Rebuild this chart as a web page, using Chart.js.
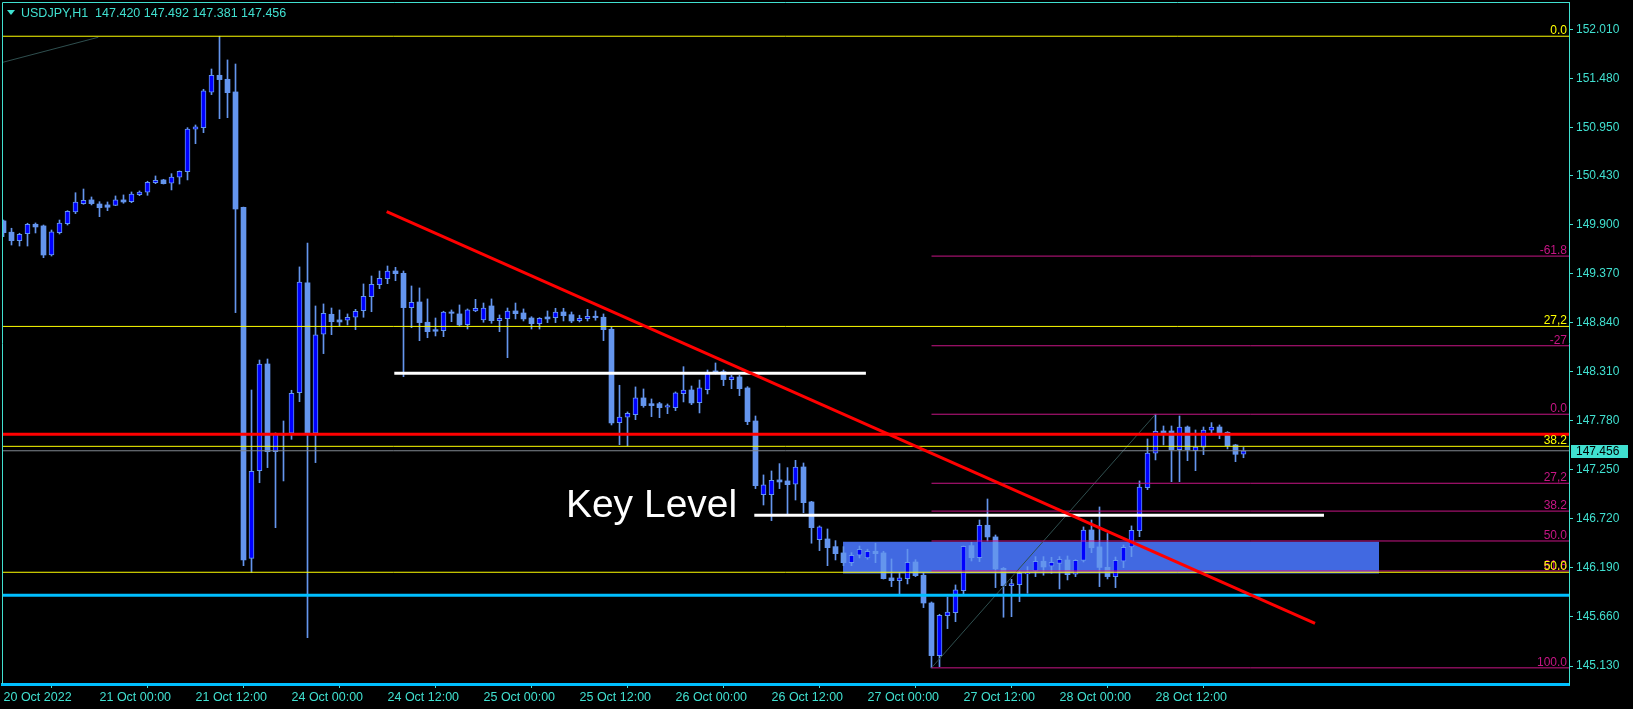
<!DOCTYPE html>
<html><head><meta charset="utf-8">
<script src="https://cdn.jsdelivr.net/npm/chart.js@4/dist/chart.umd.min.js"></script>
<style>html,body{margin:0;padding:0;background:#000;}canvas{display:block;}</style>
</head><body>
<canvas id="c" width="1633" height="709"></canvas>
<script>
// ---------- DATA (USDJPY H1, bar index 0 = 20 Oct 2022 12:00) ----------
const symbolTitle = 'USDJPY,H1';
const open = [
149.940,149.818,149.727,149.802,149.904,149.886,149.572,149.813,149.910,150.037,
150.127,150.167,150.123,150.113,150.109,150.167,150.148,150.224,150.250,150.354,
150.383,150.347,150.412,150.472,150.931,150.948,151.331,151.514,151.471,151.334,
150.088,146.294,147.241,148.394,147.446,147.638,147.645,148.084,149.270,147.645,
148.715,148.931,148.870,148.867,148.899,148.970,149.122,149.251,149.316,149.399,
149.374,149.003,149.064,148.845,148.765,148.754,148.956,148.935,148.819,148.967,
148.870,149.021,148.862,148.884,148.967,148.945,148.891,148.830,148.902,148.895,
148.956,148.927,148.862,148.884,148.910,148.899,148.769,147.760,147.818,147.846,
148.027,147.965,147.965,147.926,147.922,148.073,148.113,147.976,148.117,148.319,
148.311,148.225,148.254,148.135,147.778,146.982,146.982,147.141,147.130,147.094,
147.281,146.903,146.495,146.503,146.420,146.352,146.247,146.327,146.298,146.370,
146.352,146.082,146.052,146.074,146.254,146.111,145.811,145.242,145.674,145.707,
145.944,146.431,146.301,146.651,146.525,146.186,145.998,146.009,146.125,146.157,
146.262,146.208,146.238,146.276,146.122,146.271,146.600,146.417,146.197,146.096,
146.262,146.417,146.593,147.057,147.429,147.670,147.670,147.468,147.713,147.457,
147.494,147.678,147.713,147.656,147.519,147.420];
const high = [
149.950,149.861,149.807,149.915,149.918,149.896,149.842,149.950,150.051,150.245,
150.285,150.199,150.148,150.145,150.210,150.221,150.253,150.264,150.369,150.426,
150.390,150.451,150.480,150.948,150.977,151.363,151.582,151.936,151.680,151.636,
150.091,148.113,148.437,148.448,147.649,147.778,148.110,149.443,149.702,149.021,
149.043,148.999,148.978,148.935,148.985,149.259,149.345,149.399,149.453,149.439,
149.399,149.237,149.216,149.097,148.891,148.964,148.978,149.032,148.989,149.093,
149.053,149.097,148.924,148.999,149.053,148.989,148.905,148.895,148.967,148.996,
148.996,148.956,148.921,148.985,148.967,148.935,148.791,148.164,147.876,148.146,
148.124,148.016,147.980,147.962,148.092,148.365,148.156,148.221,148.329,148.405,
148.329,148.272,148.272,148.149,147.832,147.195,147.238,147.317,147.274,147.353,
147.324,146.910,146.644,146.611,146.485,146.420,146.355,146.427,146.392,146.457,
146.370,146.287,146.139,146.392,146.279,146.139,145.822,145.689,145.876,146.006,
146.427,146.467,146.708,146.935,146.546,146.195,146.067,146.157,146.204,146.312,
146.312,146.305,146.312,146.319,146.279,146.633,146.708,146.849,146.562,146.308,
146.438,146.644,147.130,147.584,147.851,147.724,147.724,147.832,147.724,147.681,
147.713,147.760,147.735,147.663,147.525,147.492];
const low = [
149.770,149.680,149.669,149.669,149.810,149.543,149.561,149.799,149.896,150.019,
150.120,150.113,149.986,150.051,150.105,150.131,150.137,150.213,150.217,150.343,
150.339,150.275,150.339,150.383,150.775,150.894,151.305,151.045,151.056,148.949,
146.214,146.143,147.111,147.274,146.625,147.130,147.580,147.987,145.436,147.328,
148.506,148.711,148.805,148.816,148.765,148.899,148.959,149.208,149.262,149.294,
148.257,148.787,148.646,148.678,148.697,148.689,148.851,148.805,148.772,148.959,
148.845,148.834,148.743,148.462,148.881,148.859,148.772,148.772,148.841,148.841,
148.859,148.841,148.848,148.859,148.867,148.646,147.735,147.522,147.508,147.792,
147.926,147.825,147.814,147.857,147.890,147.984,147.954,147.865,148.070,148.286,
148.160,148.127,148.052,147.738,147.047,146.870,146.701,147.047,146.773,146.924,
146.787,146.457,146.377,146.214,146.276,146.214,146.214,146.298,146.284,146.247,
146.070,145.988,145.909,146.017,146.096,145.761,145.110,145.123,145.534,145.609,
145.905,146.265,146.258,146.481,145.977,145.657,145.663,145.825,145.916,146.096,
146.111,146.132,145.963,146.060,146.096,146.254,146.355,145.988,146.071,145.977,
146.193,146.312,146.528,147.036,147.357,147.519,147.122,147.122,147.349,147.241,
147.414,147.645,147.587,147.476,147.338,147.381];
const close = [
149.813,149.727,149.796,149.904,149.875,149.572,149.821,149.918,150.044,150.145,
150.163,150.127,150.083,150.088,150.167,150.145,150.231,150.253,150.358,150.380,
150.343,150.415,150.477,150.934,150.956,151.345,151.514,151.467,151.326,150.069,
146.276,147.235,148.394,147.446,147.645,147.627,148.078,149.280,147.645,148.708,
148.942,148.851,148.848,148.899,148.964,149.126,149.256,149.320,149.399,149.370,
149.003,149.061,148.841,148.743,148.748,148.956,148.942,148.816,148.978,148.996,
148.999,148.862,148.888,148.967,148.938,148.881,148.830,148.888,148.881,148.956,
148.916,148.859,148.888,148.910,148.895,148.765,147.757,147.821,147.861,148.027,
147.944,147.944,147.922,147.944,148.081,148.113,147.973,148.135,148.300,148.294,
148.225,148.254,148.127,147.771,147.079,147.087,147.137,147.119,147.090,147.281,
146.895,146.625,146.633,146.409,146.344,146.247,146.327,146.392,146.370,146.344,
146.074,146.052,146.082,146.251,146.106,145.811,145.242,145.678,145.714,145.952,
146.424,146.301,146.651,146.525,146.179,145.998,146.020,146.132,146.136,146.262,
146.200,146.251,146.284,146.117,146.271,146.598,146.408,146.195,146.096,146.273,
146.413,146.597,147.065,147.432,147.667,147.645,147.468,147.713,147.468,147.497,
147.681,147.713,147.645,147.511,147.418,147.456];

const xTickIdx = [0,12,24,36,48,60,72,84,96,108,120,132,144];
const xTickLabels = ['20 Oct 2022','21 Oct 00:00','21 Oct 12:00','24 Oct 00:00','24 Oct 12:00','25 Oct 00:00','25 Oct 12:00','26 Oct 00:00','26 Oct 12:00','27 Oct 00:00','27 Oct 12:00','28 Oct 00:00','28 Oct 12:00'];
const yTicks = [152.010,151.480,150.950,150.430,149.900,149.370,148.840,148.310,147.780,147.250,146.720,146.190,145.660,145.130];

// Fibonacci (yellow, full width) and (magenta, from bar 116)
const yellowFibLevels = [151.936,148.800,147.504,146.143];
const yellowFibLabels = ['0.0','27,2','38.2','50.0'];
const yellowFibTrend = [[-0.1,151.654],[11.85,151.925]];
const magentaFibStart = 116;
const magentaFibLevels = [149.560,148.591,147.851,147.105,146.804,146.481,146.157,145.110];
const magentaFibLabels = ['-61.8','-27','0.0','27,2','38.2','50.0','61.8','100.0'];
const magentaFibTrend = [[116,145.110],[144,147.851]];

const redLevel = 147.634;
const cyanLevel = 145.894;
const currentPrice = 147.456;
const whiteLines = [[48.85,107.8,148.293],[93.85,165.06,146.759]];
const redTrend = [[47.9,150.040],[163.94,145.592]];
const zone = {from:104.94, to:171.94, top:146.473, bottom:146.130};
const keyLabel = {text:'Key Level', x:70.3, price:146.738};

// ---------- CHART ----------
const TURQ = '#40E0D0', CANDLE = '#6495ED', BULL = '#0000FF', MAG = '#C71585', YEL = '#FFFF00';
const X_MIN = -0.1875, X_MAX = 195.6875, Y_MIN = 144.9355, Y_MAX = 152.3061;
const FONT = '"Liberation Sans", Arial, sans-serif';

const wickData = [], bullData = [], bearData = [];
for (let i = 0; i < open.length; i++) {
  wickData.push({x:i, y:[Math.min(low[i],open[i],close[i]), Math.max(high[i],open[i],close[i])]});
  (close[i] >= open[i] ? bullData : bearData).push({x:i, y:[open[i], close[i]]});
}
const hLine = (x0, x1, p, color, w, order) => ({type:'line', data:[{x:x0,y:p},{x:x1,y:p}], borderColor:color, borderWidth:w, pointRadius:0, fill:false, order:order});
const segLine = (pts, color, w, order) => ({type:'line', data:pts.map(q=>({x:q[0],y:q[1]})), borderColor:color, borderWidth:w, pointRadius:0, fill:false, order:order});

const datasets = [];
datasets.push({type:'line', data:[{x:zone.from,y:zone.top},{x:zone.to,y:zone.top}], borderWidth:0, borderColor:'rgba(0,0,0,0)', backgroundColor:'#4169E1', pointRadius:0, fill:{value:zone.bottom}, order:20});
datasets.push({type:'bar', data:wickData, backgroundColor:CANDLE, borderWidth:0, barThickness:1, grouped:false, minBarLength:1, order:12});
datasets.push({type:'bar', data:bearData, backgroundColor:CANDLE, borderColor:CANDLE, borderWidth:0, barThickness:5, grouped:false, minBarLength:1, order:11});
datasets.push({type:'bar', data:bullData, backgroundColor:BULL, borderColor:CANDLE, borderWidth:1, borderSkipped:false, barThickness:5, grouped:false, minBarLength:1, order:10});
yellowFibLevels.forEach(p => datasets.push(hLine(X_MIN, X_MAX, p, YEL, 1, 5)));
magentaFibLevels.forEach(p => datasets.push(hLine(magentaFibStart, X_MAX, p, MAG, 1, 5)));
datasets.push(segLine(yellowFibTrend, '#2F4F4F', 1, 5));
datasets.push(segLine(magentaFibTrend, '#2F4F4F', 1, 5));
datasets.push(hLine(X_MIN, X_MAX, currentPrice, '#808890', 1, 4));
datasets.push(hLine(X_MIN, X_MAX, cyanLevel, '#00BFFF', 3, 3));
datasets.push(hLine(X_MIN, X_MAX, redLevel, '#FF0000', 3, 3));
whiteLines.forEach(w => datasets.push(hLine(w[0], w[1], w[2], '#FFFFFF', 3, 2)));
datasets.push(segLine(redTrend, '#FF0000', 3, 1));

const overlay = {
  id:'overlay',
  afterDatasetsDraw(chart) {
    const {ctx, chartArea:a, scales:{x, y}} = chart;
    ctx.save();
    ctx.beginPath(); ctx.rect(a.left, a.top, a.right-a.left, a.bottom-a.top); ctx.clip();
    ctx.font = '12px ' + FONT; ctx.textAlign = 'right'; ctx.textBaseline = 'alphabetic';
    magentaFibLevels.forEach((p,k) => { ctx.fillStyle = MAG; ctx.fillText(magentaFibLabels[k], a.right-2, y.getPixelForValue(p)-2); });
    yellowFibLevels.forEach((p,k) => { ctx.fillStyle = YEL; ctx.fillText(yellowFibLabels[k], a.right-2, y.getPixelForValue(p)-2); });
    ctx.font = '39px ' + FONT; ctx.fillStyle = '#FFFFFF'; ctx.textAlign = 'left';
    ctx.fillText(keyLabel.text, x.getPixelForValue(keyLabel.x), y.getPixelForValue(keyLabel.price));
    // header
    const n = open.length - 1;
    ctx.fillStyle = TURQ;
    ctx.beginPath(); ctx.moveTo(7,10); ctx.lineTo(15,10); ctx.lineTo(11,15); ctx.closePath(); ctx.fill();
    ctx.font = '12.5px ' + FONT;
    ctx.fillText(symbolTitle + '  ' + [open[n],high[n],low[n],close[n]].map(v=>v.toFixed(3)).join(' '), 21, 17);
    ctx.restore();
    ctx.save();
    ctx.strokeStyle = TURQ; ctx.lineWidth = 1;
    ctx.beginPath(); ctx.moveTo(a.left+0.5, a.bottom); ctx.lineTo(a.left+0.5, a.top+0.5); ctx.lineTo(a.right, a.top+0.5); ctx.stroke();
    ctx.restore();
  },
  afterDraw(chart) {
    const {ctx, chartArea:a, scales:{y}} = chart;
    const yc = Math.round(y.getPixelForValue(currentPrice));
    ctx.save();
    ctx.fillStyle = TURQ; ctx.fillRect(a.right+2, yc-6, 57, 13);
    ctx.fillStyle = '#000'; ctx.font = '12px ' + FONT; ctx.textAlign = 'left'; ctx.textBaseline = 'middle';
    ctx.fillText(currentPrice.toFixed(3), a.right+7, yc+0.5);
    ctx.restore();
  }
};

new Chart(document.getElementById('c').getContext('2d'), {
  type:'bar',
  data:{datasets},
  options:{
    responsive:false, animation:false, events:[],
    layout:{padding:{left:2, top:2, right:0, bottom:0}},
    plugins:{legend:{display:false}, tooltip:{enabled:false}},
    scales:{
      x:{type:'linear', position:'bottom', min:X_MIN, max:X_MAX, offset:false,
        afterFit:s=>{s.height=25; s.paddingLeft=0; s.paddingRight=0; s.paddingTop=0; s.paddingBottom=0;},
        afterBuildTicks:s=>{s.ticks = xTickIdx.map(v=>({value:v}));},
        ticks:{autoSkip:false, maxRotation:0, minRotation:0, align:'start', padding:2, color:TURQ, font:{family:FONT, size:12.5}, callback:(v,i)=>xTickLabels[i]},
        grid:{drawOnChartArea:false, drawTicks:true, tickLength:4, color:TURQ},
        border:{display:true, color:'#00BFFF', width:3}},
      y:{type:'linear', position:'right', min:Y_MIN, max:Y_MAX,
        afterFit:s=>{s.width=64; s.paddingTop=0; s.paddingBottom=0; s.paddingLeft=0; s.paddingRight=0;},
        afterBuildTicks:s=>{s.ticks = yTicks.map(v=>({value:v}));},
        ticks:{color:TURQ, padding:3, font:{family:FONT, size:12}, callback:v=>Number(v).toFixed(3)},
        grid:{drawOnChartArea:false, drawTicks:true, tickLength:4, color:TURQ},
        border:{display:true, color:TURQ, width:1}}
    }
  },
  plugins:[overlay]
});
</script>
</body></html>
